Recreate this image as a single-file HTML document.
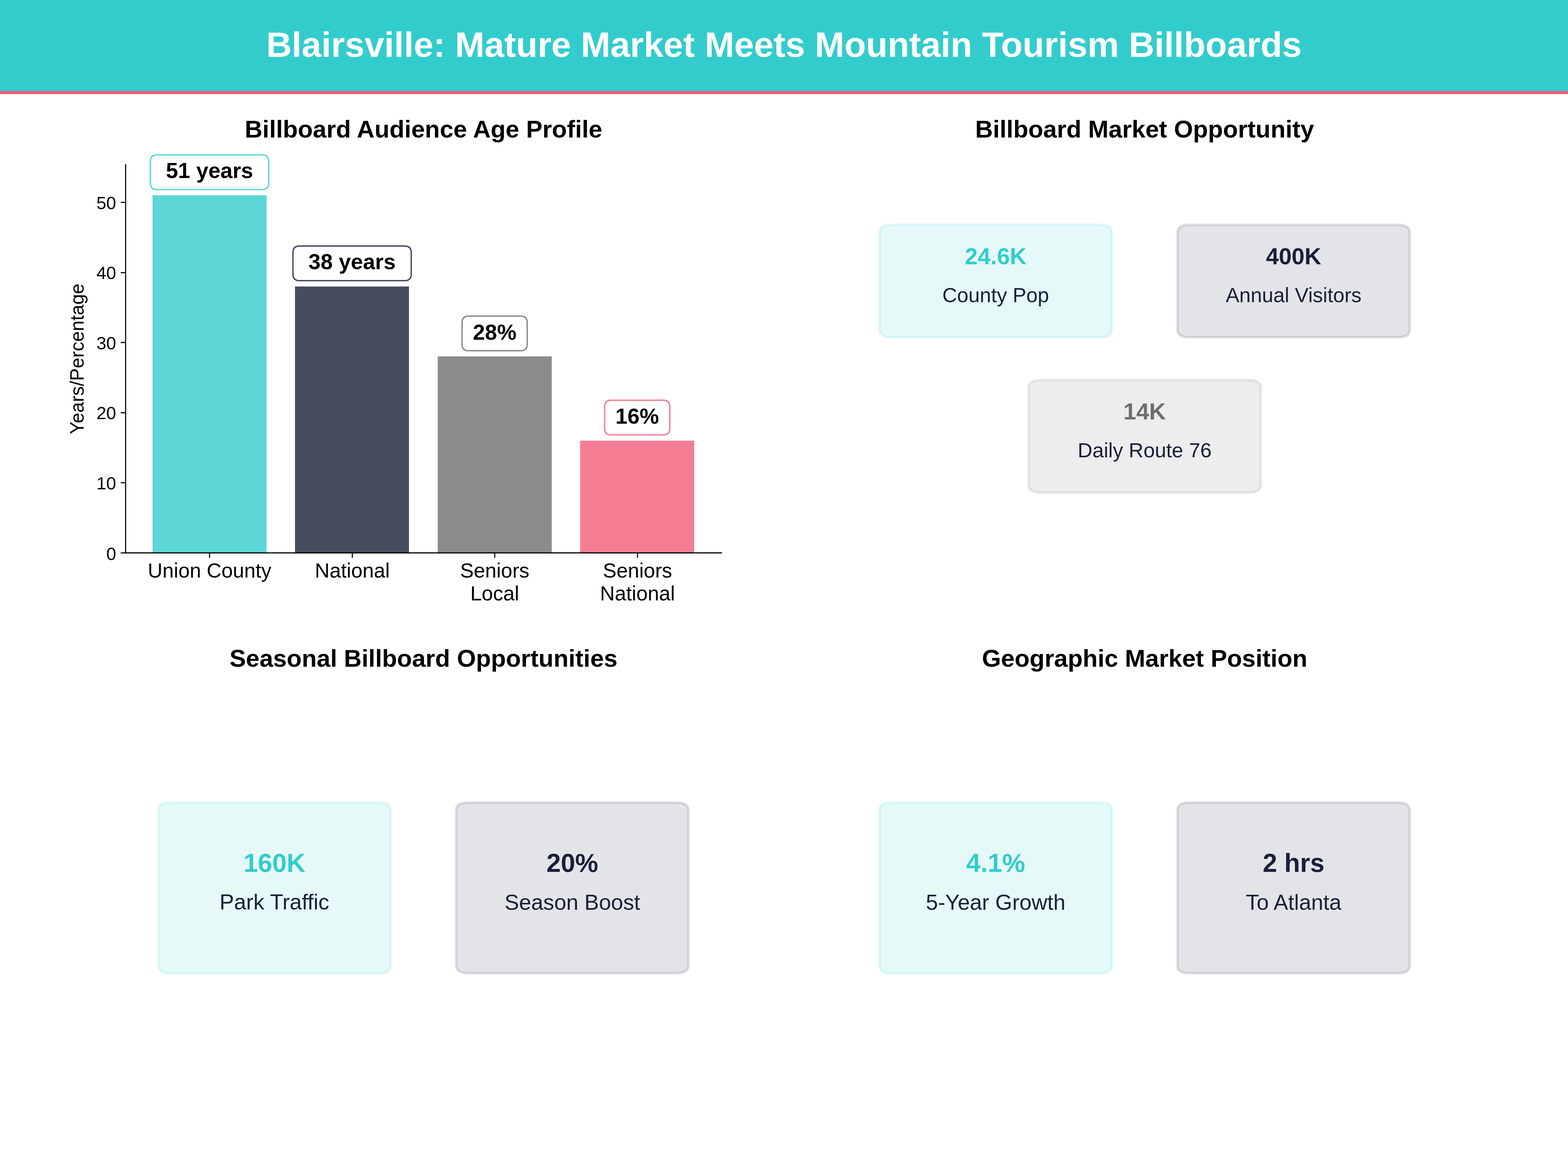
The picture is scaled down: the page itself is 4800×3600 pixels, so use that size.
<!DOCTYPE html>
<html lang="en">
<head>
<meta charset="utf-8">
<title>Blairsville: Mature Market Meets Mountain Tourism Billboards</title>
<style>html,body{margin:0;padding:0;background:#fff;}body{position:relative;width:4800px;height:3600px;overflow:hidden;font-family:"Liberation Sans",sans-serif;}svg{position:absolute;left:0;top:0;display:block;}.t{position:absolute;margin:0;white-space:nowrap;line-height:1;font-weight:400;color:transparent;}</style>
</head>
<body>
<svg width="4800" height="3600" viewBox="0 0 4800 3600" role="img" aria-label="Blairsville billboard market infographic" font-family="'Liberation Sans', sans-serif">
<rect x="467" y="598" width="349" height="1094" fill="#33cccc" fill-opacity="0.8"/>
<rect x="903" y="877" width="349" height="815" fill="#1a1f3a" fill-opacity="0.8"/>
<rect x="1340" y="1091" width="349" height="601" fill="#6e6e6e" fill-opacity="0.8"/>
<rect x="1776" y="1349" width="349" height="343" fill="#f25c78" fill-opacity="0.8"/>
<path d="M641.5 1692.5L641.5 1707.5" fill="none" stroke="#000000" stroke-width="3.33"/>
<text x="641.5" y="1768.07" font-size="62.5" text-anchor="middle" fill="#000000">Union County</text>
<path d="M1078.5 1692.5L1078.5 1707.5" fill="none" stroke="#000000" stroke-width="3.33"/>
<text x="1078.5" y="1768.07" font-size="62.5" text-anchor="middle" fill="#000000">National</text>
<path d="M1514.5 1692.5L1514.5 1707.5" fill="none" stroke="#000000" stroke-width="3.33"/>
<text x="1514.5" y="1768.07" font-size="62.5" text-anchor="middle" fill="#000000">Seniors</text>
<text x="1514.5" y="1838.07" font-size="62.5" text-anchor="middle" fill="#000000">Local</text>
<path d="M1951.5 1692.5L1951.5 1707.5" fill="none" stroke="#000000" stroke-width="3.33"/>
<text x="1951.5" y="1768.07" font-size="62.5" text-anchor="middle" fill="#000000">Seniors</text>
<text x="1951.5" y="1838.07" font-size="62.5" text-anchor="middle" fill="#000000">National</text>
<path d="M384.5 1692.5L369.5 1692.5" fill="none" stroke="#000000" stroke-width="3.33"/>
<text x="355.5" y="1713.5" font-size="54.17" text-anchor="end" fill="#000000">0</text>
<path d="M384.5 1477.5L369.5 1477.5" fill="none" stroke="#000000" stroke-width="3.33"/>
<text x="355.5" y="1498.24" font-size="54.17" text-anchor="end" fill="#000000">10</text>
<path d="M384.5 1263.5L369.5 1263.5" fill="none" stroke="#000000" stroke-width="3.33"/>
<text x="355.5" y="1283.29" font-size="54.17" text-anchor="end" fill="#000000">20</text>
<path d="M384.5 1048.5L369.5 1048.5" fill="none" stroke="#000000" stroke-width="3.33"/>
<text x="355.5" y="1069.18" font-size="54.17" text-anchor="end" fill="#000000">30</text>
<path d="M384.5 834.5L369.5 834.5" fill="none" stroke="#000000" stroke-width="3.33"/>
<text x="355.5" y="854.42" font-size="54.17" text-anchor="end" fill="#000000">40</text>
<path d="M384.5 619.5L369.5 619.5" fill="none" stroke="#000000" stroke-width="3.33"/>
<text x="355.5" y="640.12" font-size="54.17" text-anchor="end" fill="#000000">50</text>
<text transform="translate(255.92 1098.5) rotate(-90)" font-size="58.33" text-anchor="middle" fill="#000000">Years/Percentage</text>
<path d="M384.5 1692.5L384.5 504.5" fill="none" stroke="#000000" stroke-width="3.33" stroke-linecap="square"/>
<path d="M384.5 1692.5L2208.5 1692.5" fill="none" stroke="#000000" stroke-width="3.33" stroke-linecap="square"/>
<path d="M480.33 580.21L802.58 580.21Q822.58 580.21 822.58 560.21L822.58 494.21Q822.58 474.21 802.58 474.21L480.33 474.21Q460.33 474.21 460.33 494.21L460.33 560.21Q460.33 580.21 480.33 580.21Z" fill="#ffffff" fill-opacity="0.8" stroke="#33cccc" stroke-width="4.17" stroke-linejoin="miter" stroke-opacity="0.8"/>
<text x="641.5" y="544.66" font-size="66.67" font-weight="700" text-anchor="middle" fill="#000000">51 years</text>
<path d="M916.82 859.14L1238.82 859.14Q1258.82 859.14 1258.82 839.14L1258.82 773.14Q1258.82 753.14 1238.82 753.14L916.82 753.14Q896.82 753.14 896.82 773.14L896.82 839.14Q896.82 859.14 916.82 859.14Z" fill="#ffffff" fill-opacity="0.8" stroke="#1a1f3a" stroke-width="4.17" stroke-linejoin="miter" stroke-opacity="0.8"/>
<text x="1077.8" y="823.74" font-size="66.67" font-weight="700" text-anchor="middle" fill="#000000">38 years</text>
<path d="M1434.49 1073.69L1593.87 1073.69Q1613.87 1073.69 1613.87 1053.69L1613.87 987.69Q1613.87 967.69 1593.87 967.69L1434.49 967.69Q1414.49 967.69 1414.49 987.69L1414.49 1053.69Q1414.49 1073.69 1434.49 1073.69Z" fill="#ffffff" fill-opacity="0.8" stroke="#6e6e6e" stroke-width="4.17" stroke-linejoin="miter" stroke-opacity="0.8"/>
<text x="1514.2" y="1039.74" font-size="66.67" font-weight="700" text-anchor="middle" fill="#000000">28%</text>
<path d="M1870.73 1331.16L2030.36 1331.16Q2050.36 1331.16 2050.36 1311.16L2050.36 1245.16Q2050.36 1225.16 2030.36 1225.16L1870.73 1225.16Q1850.73 1225.16 1850.73 1245.16L1850.73 1311.16Q1850.73 1331.16 1870.73 1331.16Z" fill="#ffffff" fill-opacity="0.8" stroke="#f25c78" stroke-width="4.17" stroke-linejoin="miter" stroke-opacity="0.8"/>
<text x="1950.5" y="1296.71" font-size="66.67" font-weight="700" text-anchor="middle" fill="#000000">16%</text>
<text x="1296.5" y="420.97" font-size="75" font-weight="700" text-anchor="middle" fill="#000000">Billboard Audience Age Profile</text>
<path d="M2728.8 1032.66L3367.2 1032.66Q3403.68 1032.66 3403.68 1008.9L3403.68 711.9Q3403.68 688.14 3367.2 688.14L2728.8 688.14Q2692.32 688.14 2692.32 711.9L2692.32 1008.9Q2692.32 1032.66 2728.8 1032.66Z" fill="#33cccc" fill-opacity="0.12" stroke="#33cccc" stroke-width="8.33" stroke-linejoin="miter" stroke-opacity="0.12"/>
<path d="M3640.8 1032.66L4279.2 1032.66Q4315.68 1032.66 4315.68 1008.9L4315.68 711.9Q4315.68 688.14 4279.2 688.14L3640.8 688.14Q3604.32 688.14 3604.32 711.9L3604.32 1008.9Q3604.32 1032.66 3640.8 1032.66Z" fill="#1a1f3a" fill-opacity="0.12" stroke="#1a1f3a" stroke-width="8.33" stroke-linejoin="miter" stroke-opacity="0.12"/>
<path d="M3184.8 1507.86L3823.2 1507.86Q3859.68 1507.86 3859.68 1484.1L3859.68 1187.1Q3859.68 1163.34 3823.2 1163.34L3184.8 1163.34Q3148.32 1163.34 3148.32 1187.1L3148.32 1484.1Q3148.32 1507.86 3184.8 1507.86Z" fill="#6e6e6e" fill-opacity="0.12" stroke="#6e6e6e" stroke-width="8.33" stroke-linejoin="miter" stroke-opacity="0.12"/>
<text x="3048" y="808.87" font-size="70.83" font-weight="700" text-anchor="middle" fill="#33cccc">24.6K</text>
<text x="3048" y="925.17" font-size="62.5" text-anchor="middle" fill="#1a1f3a">County Pop</text>
<text x="3960" y="808.97" font-size="70.83" font-weight="700" text-anchor="middle" fill="#1a1f3a">400K</text>
<text x="3960" y="925.07" font-size="62.5" text-anchor="middle" fill="#1a1f3a">Annual Visitors</text>
<text x="3504" y="1283.97" font-size="70.83" font-weight="700" text-anchor="middle" fill="#6e6e6e">14K</text>
<text x="3504" y="1400.17" font-size="62.5" text-anchor="middle" fill="#1a1f3a">Daily Route 76</text>
<text x="3504" y="420.97" font-size="75" font-weight="700" text-anchor="middle" fill="#000000">Billboard Market Opportunity</text>
<path d="M520.8 2979.36L1159.2 2979.36Q1195.68 2979.36 1195.68 2955.6L1195.68 2480.4Q1195.68 2456.64 1159.2 2456.64L520.8 2456.64Q484.32 2456.64 484.32 2480.4L484.32 2955.6Q484.32 2979.36 520.8 2979.36Z" fill="#33cccc" fill-opacity="0.12" stroke="#33cccc" stroke-width="8.33" stroke-linejoin="miter" stroke-opacity="0.12"/>
<path d="M1432.8 2979.36L2071.2 2979.36Q2107.68 2979.36 2107.68 2955.6L2107.68 2480.4Q2107.68 2456.64 2071.2 2456.64L1432.8 2456.64Q1396.32 2456.64 1396.32 2480.4L1396.32 2955.6Q1396.32 2979.36 1432.8 2979.36Z" fill="#1a1f3a" fill-opacity="0.12" stroke="#1a1f3a" stroke-width="8.33" stroke-linejoin="miter" stroke-opacity="0.12"/>
<text x="840" y="2669.22" font-size="79.17" font-weight="700" text-anchor="middle" fill="#33cccc">160K</text>
<text x="840" y="2784.47" font-size="66.67" text-anchor="middle" fill="#1a1f3a">Park Traffic</text>
<text x="1752" y="2669.22" font-size="79.17" font-weight="700" text-anchor="middle" fill="#1a1f3a">20%</text>
<text x="1752" y="2784.72" font-size="66.67" text-anchor="middle" fill="#1a1f3a">Season Boost</text>
<text x="1296.5" y="2041.02" font-size="75" font-weight="700" text-anchor="middle" fill="#000000">Seasonal Billboard Opportunities</text>
<path d="M2728.8 2979.36L3367.2 2979.36Q3403.68 2979.36 3403.68 2955.6L3403.68 2480.4Q3403.68 2456.64 3367.2 2456.64L2728.8 2456.64Q2692.32 2456.64 2692.32 2480.4L2692.32 2955.6Q2692.32 2979.36 2728.8 2979.36Z" fill="#33cccc" fill-opacity="0.12" stroke="#33cccc" stroke-width="8.33" stroke-linejoin="miter" stroke-opacity="0.12"/>
<path d="M3640.8 2979.36L4279.2 2979.36Q4315.68 2979.36 4315.68 2955.6L4315.68 2480.4Q4315.68 2456.64 4279.2 2456.64L3640.8 2456.64Q3604.32 2456.64 3604.32 2480.4L3604.32 2955.6Q3604.32 2979.36 3640.8 2979.36Z" fill="#1a1f3a" fill-opacity="0.12" stroke="#1a1f3a" stroke-width="8.33" stroke-linejoin="miter" stroke-opacity="0.12"/>
<text x="3048" y="2669.17" font-size="79.17" font-weight="700" text-anchor="middle" fill="#33cccc">4.1%</text>
<text x="3048" y="2784.67" font-size="66.67" text-anchor="middle" fill="#1a1f3a">5-Year Growth</text>
<text x="3960" y="2669.02" font-size="79.17" font-weight="700" text-anchor="middle" fill="#1a1f3a">2 hrs</text>
<text x="3960" y="2784.62" font-size="66.67" text-anchor="middle" fill="#1a1f3a">To Atlanta</text>
<text x="3504" y="2041.02" font-size="75" font-weight="700" text-anchor="middle" fill="#000000">Geographic Market Position</text>
<rect x="0" y="0" width="4800" height="288" fill="#33cccc"/>
<rect x="0" y="279" width="4800" height="9" fill="#f25c78"/>
<text x="2400" y="174" font-size="108.33" font-weight="700" text-anchor="middle" fill="#ffffff">Blairsville: Mature Market Meets Mountain Tourism Billboards</text>
</svg>
<div class="textlayer">
<h1 class="t" style="left:509.19px;top:75.96px;font-size:108.33px;font-weight:700;">Blairsville: Mature Market Meets Mountain Tourism Billboards</h1>
<h2 class="t" style="left:651px;top:352.79px;font-size:75px;font-weight:700;">Billboard Audience Age Profile</h2>
<span class="t" style="left:257.17px;top:1296.27px;font-size:58.33px;transform-origin:0 52.79px;transform:rotate(-90deg);">Years/Percentage</span>
<span class="t" style="left:320.33px;top:1663.48px;font-size:54.17px;">0</span>
<span class="t" style="left:285.83px;top:1448.92px;font-size:54.17px;">10</span>
<span class="t" style="left:285.96px;top:1234.37px;font-size:54.17px;">20</span>
<span class="t" style="left:285.83px;top:1019.81px;font-size:54.17px;">30</span>
<span class="t" style="left:285.83px;top:805.25px;font-size:54.17px;">40</span>
<span class="t" style="left:285.83px;top:590.7px;font-size:54.17px;">50</span>
<span class="t" style="left:430.2px;top:1711.6px;font-size:62.5px;">Union County</span>
<span class="t" style="left:947.76px;top:1711.6px;font-size:62.5px;">National</span>
<span class="t" style="left:1398.37px;top:1711.6px;font-size:62.5px;">Seniors</span>
<span class="t" style="left:1433.12px;top:1781px;font-size:62.5px;">Local</span>
<span class="t" style="left:1834.73px;top:1711.6px;font-size:62.5px;">Seniors</span>
<span class="t" style="left:1820.48px;top:1781px;font-size:62.5px;">National</span>
<span class="t" style="left:480.33px;top:484.88px;font-size:66.67px;font-weight:700;">51 years</span>
<span class="t" style="left:916.82px;top:763.8px;font-size:66.67px;font-weight:700;">38 years</span>
<span class="t" style="left:1434.49px;top:979.36px;font-size:66.67px;font-weight:700;">28%</span>
<span class="t" style="left:1870.73px;top:1236.83px;font-size:66.67px;font-weight:700;">16%</span>
<h2 class="t" style="left:2882.88px;top:352.79px;font-size:75px;font-weight:700;">Billboard Market Opportunity</h2>
<span class="t" style="left:2933px;top:744.52px;font-size:70.83px;font-weight:700;">24.6K</span>
<span class="t" style="left:2870.25px;top:868.36px;font-size:62.5px;">County Pop</span>
<span class="t" style="left:3858.56px;top:744.52px;font-size:70.83px;font-weight:700;">400K</span>
<span class="t" style="left:3726.81px;top:868.36px;font-size:62.5px;">Annual Visitors</span>
<span class="t" style="left:3427.19px;top:1219.72px;font-size:70.83px;font-weight:700;">14K</span>
<span class="t" style="left:3274.62px;top:1343.56px;font-size:62.5px;">Daily Route 76</span>
<h2 class="t" style="left:596.5px;top:1972.79px;font-size:75px;font-weight:700;">Seasonal Billboard Opportunities</h2>
<span class="t" style="left:726.81px;top:2597.07px;font-size:79.17px;font-weight:700;">160K</span>
<span class="t" style="left:657px;top:2724.19px;font-size:66.67px;">Park Traffic</span>
<span class="t" style="left:1657.38px;top:2597.07px;font-size:79.17px;font-weight:700;">20%</span>
<span class="t" style="left:1526.62px;top:2724.19px;font-size:66.67px;">Season Boost</span>
<h2 class="t" style="left:2916.56px;top:1972.79px;font-size:75px;font-weight:700;">Geographic Market Position</h2>
<span class="t" style="left:2938.19px;top:2597.07px;font-size:79.17px;font-weight:700;">4.1%</span>
<span class="t" style="left:2817.25px;top:2724.19px;font-size:66.67px;">5-Year Growth</span>
<span class="t" style="left:3847.56px;top:2597.07px;font-size:79.17px;font-weight:700;">2 hrs</span>
<span class="t" style="left:3794.88px;top:2724.19px;font-size:66.67px;">To Atlanta</span>
</div>
</body>
</html>
